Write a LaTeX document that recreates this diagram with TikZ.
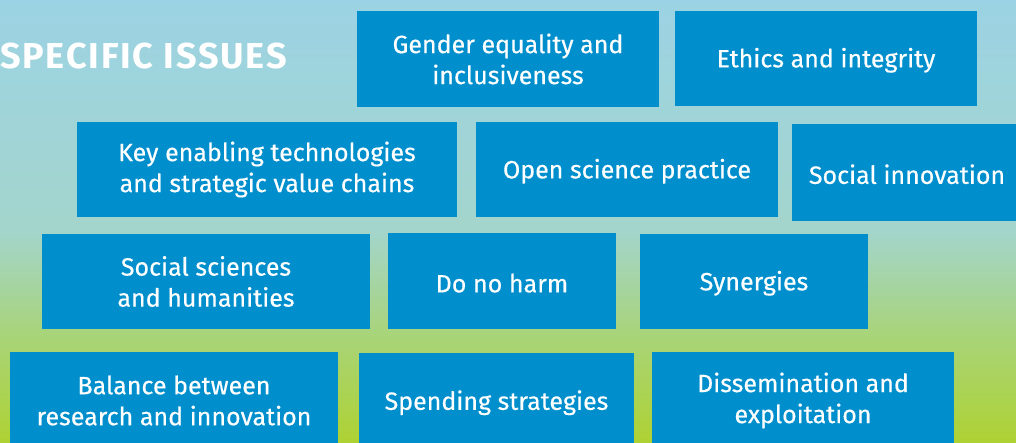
\documentclass[tikz,border=0pt]{standalone}
\usepackage{fontspec}
\setmainfont{Fira Sans}
\newfontfamily\boxfont{Fira Sans}[FakeBold=0.4]
\newfontfamily\titlefont{Fira Sans Bold}[LetterSpace=5]
\definecolor{boxblue}{RGB}{0,143,205}
\definecolor{bgT}{RGB}{156,211,228}
\definecolor{bgM}{RGB}{163,213,204}
\definecolor{bgL}{RGB}{168,212,125}
\definecolor{bgB}{RGB}{174,210,50}
\pgfdeclareverticalshading{bggrad}{100bp}{color(0bp)=(bgB); color(25bp)=(bgB); color(37.75bp)=(bgL); color(49bp)=(bgM); color(75bp)=(bgT); color(100bp)=(bgT)}
\tikzset{
  ibox/.style={fill=boxblue, draw=none, inner sep=0pt, align=center, text=white,
    font=\boxfont\fontsize{25}{31}\selectfont,
    execute at begin node={\rule{0pt}{23pt}}},
  ititle/.style={text=white, inner sep=0pt, font=\titlefont\fontsize{36}{40}\selectfont}
}
\begin{document}
\begin{tikzpicture}[x=1pt,y=1pt]
\useasboundingbox (0,0) rectangle (1016,443);
\clip (0,0) rectangle (1016,443);
\shade[shading=bggrad] (0,0) rectangle (1016,443);
\node[ititle, anchor=base west] (title) at (0,374) {SPECIFIC ISSUES};
\node[ibox, minimum width=302, minimum height=96] (gender) at (508,384) {Gender equality and\\inclusiveness};
\node[ibox, minimum width=302, minimum height=95] (ethics) at (826,384.5) {Ethics and integrity};
\node[ibox, minimum width=380, minimum height=95] (key) at (267,273.5) {Key enabling technologies\\and strategic value chains};
\node[ibox, minimum width=302, minimum height=95] (open) at (627,273.5) {Open science practice};
\node[ibox, minimum width=230, minimum height=97] (socinn) at (907,270.5) {Social innovation};
\node[ibox, minimum width=328, minimum height=95] (socsci) at (206,161.5) {Social sciences\\and humanities};
\node[ibox, minimum width=228, minimum height=96] (harm) at (502,162) {Do no harm};
\node[ibox, minimum width=228, minimum height=95] (syn) at (754,161.5) {Synergies};
\node[ibox, minimum width=328, minimum height=97] (balance) at (174,42.5) {Balance between\\research and innovation};
\node[ibox, minimum width=275, minimum height=96] (spend) at (496.5,42) {Spending strategies};
\node[ibox, minimum width=302, minimum height=97] (dissem) at (803,42.5) {Dissemination and\\exploitation};
\end{tikzpicture}
\end{document}
